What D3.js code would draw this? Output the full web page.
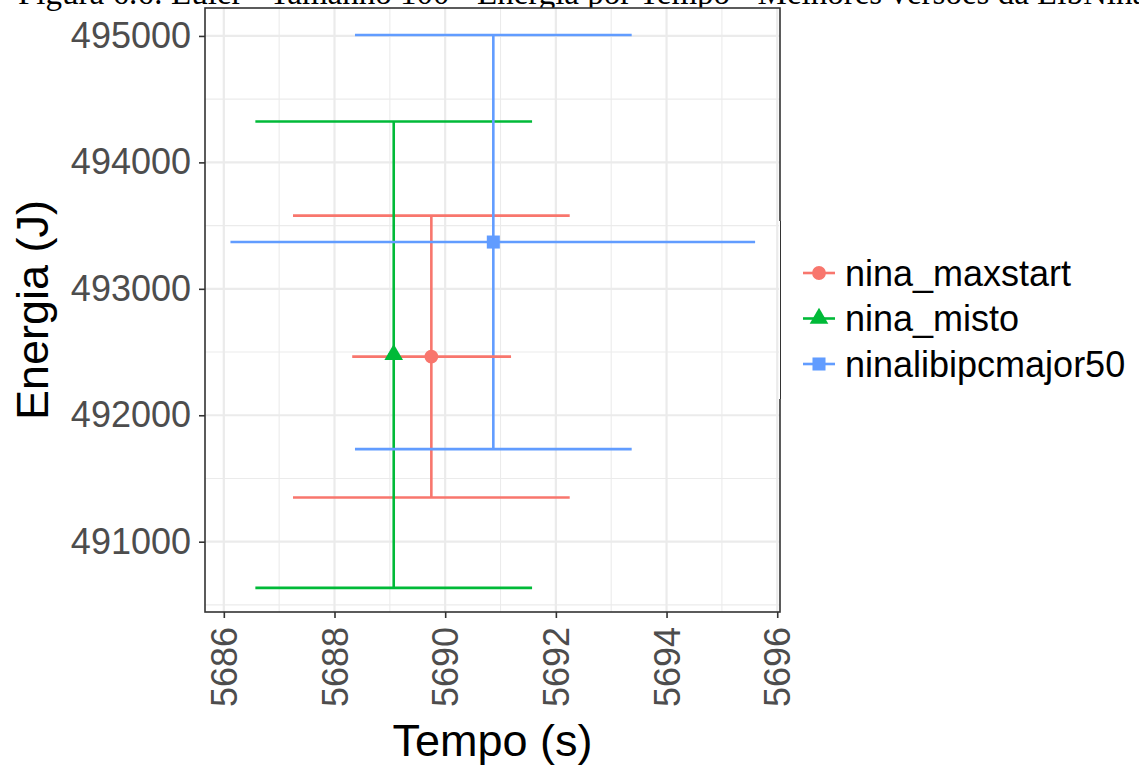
<!DOCTYPE html>
<html>
<head>
<meta charset="utf-8">
<script src="https://cdn.jsdelivr.net/npm/d3@7"></script>
<style>
  body { margin: 0; background: #fff; }
  svg { display: block; font-family: "Liberation Sans", Arial, sans-serif; }
</style>
</head>
<body>
<svg width="1139" height="765"></svg>
<script>
// data
const series = ["nina_maxstart", "nina_misto", "ninalibipcmajor50"];
const colors = ["#F8766D", "#00BA38", "#619CFF"];
const shapes = ["circle", "triangle", "square"];
const tempo = [5689.75, 5689.07, 5690.87];
const tempoMin = [5688.32, 5688.97, 5686.12];
const tempoMax = [5691.19, 5689.17, 5695.60];
const energia = [492464, 492479, 493370];
const energiaMin = [491349, 490635, 491732];
const energiaMax = [493579, 494323, 495007];
const xTicks = [5686, 5688, 5690, 5692, 5694, 5696];
const yTicks = [491000, 492000, 493000, 494000, 495000];
const capWidth = 5; // errorbar width in data units

const width = 1139, height = 765;
const pLeft = 205, pRight = 780, pTop = 8, pBottom = 612;

const svg = d3.select("svg");

const x = d3.scaleLinear().domain([5685.66, 5696.05]).range([pLeft, pRight]);
const y = d3.scaleLinear().domain([490444, 495221]).range([pBottom, pTop]);

const rows = series.map((s, i) => ({
    name: s, color: colors[i], shape: shapes[i],
    x: tempo[i], xmin: tempoMin[i], xmax: tempoMax[i],
    y: energia[i], ymin: energiaMin[i], ymax: energiaMax[i]
}));

// caption of the page, cut off at the top (the plot covers its descenders)
svg.append("text")
    .attr("x", 18)
    .attr("y", 4)
    .attr("font-family", "Liberation Serif, Times New Roman, serif")
    .attr("font-size", 33)
    .attr("fill", "#000")
    .text("Figura 6.6: Euler - Tamanho 100 - Energia por Tempo - Melhores versões da LibNina");

// panel background
svg.append("rect")
    .attr("x", pLeft).attr("y", pTop)
    .attr("width", pRight - pLeft).attr("height", pBottom - pTop)
    .attr("fill", "#fff");

// minor grid
const xMinor = d3.range(5687, 5696, 2);
const yMinor = d3.range(490500, 495001, 1000);
svg.append("g").selectAll("line")
    .data(xMinor).enter().append("line")
    .attr("x1", d => x(d)).attr("x2", d => x(d))
    .attr("y1", pTop).attr("y2", pBottom)
    .attr("stroke", "#ebebeb").attr("stroke-width", 1.1);
svg.append("g").selectAll("line")
    .data(yMinor).enter().append("line")
    .attr("y1", d => y(d)).attr("y2", d => y(d))
    .attr("x1", pLeft).attr("x2", pRight)
    .attr("stroke", "#ebebeb").attr("stroke-width", 1.1);

// major grid
svg.append("g").selectAll("line")
    .data(xTicks).enter().append("line")
    .attr("x1", d => x(d)).attr("x2", d => x(d))
    .attr("y1", pTop).attr("y2", pBottom)
    .attr("stroke", "#ebebeb").attr("stroke-width", 2.2);
svg.append("g").selectAll("line")
    .data(yTicks).enter().append("line")
    .attr("y1", d => y(d)).attr("y2", d => y(d))
    .attr("x1", pLeft).attr("x2", pRight)
    .attr("stroke", "#ebebeb").attr("stroke-width", 2.2);

// vertical errorbars
const vbars = svg.append("g").selectAll("g")
    .data(rows).enter().append("g")
    .attr("stroke", d => d.color)
    .attr("stroke-width", 2.6)
    .attr("fill", "none");
vbars.append("line")
    .attr("x1", d => x(d.x)).attr("x2", d => x(d.x))
    .attr("y1", d => y(d.ymin)).attr("y2", d => y(d.ymax));
vbars.append("line")
    .attr("x1", d => x(d.x - capWidth / 2)).attr("x2", d => x(d.x + capWidth / 2))
    .attr("y1", d => y(d.ymin)).attr("y2", d => y(d.ymin));
vbars.append("line")
    .attr("x1", d => x(d.x - capWidth / 2)).attr("x2", d => x(d.x + capWidth / 2))
    .attr("y1", d => y(d.ymax)).attr("y2", d => y(d.ymax));

// horizontal errorbars
svg.append("g").selectAll("line")
    .data(rows).enter().append("line")
    .attr("x1", d => x(d.xmin)).attr("x2", d => x(d.xmax))
    .attr("y1", d => y(d.y)).attr("y2", d => y(d.y))
    .attr("stroke", d => d.color)
    .attr("stroke-width", 2.6);

// point shapes
const symbolFor = {
    circle: d3.symbol().type(d3.symbolCircle).size(150),
    triangle: d3.symbol().type(d3.symbolTriangle).size(150),
    square: d3.symbol().type(d3.symbolSquare).size(170)
};
svg.append("g").selectAll("path")
    .data(rows).enter().append("path")
    .attr("transform", d => `translate(${x(d.x)},${y(d.y)})`)
    .attr("d", d => symbolFor[d.shape]())
    .attr("fill", d => d.color);

// panel border
svg.append("rect")
    .attr("x", pLeft).attr("y", pTop)
    .attr("width", pRight - pLeft).attr("height", pBottom - pTop)
    .attr("fill", "none")
    .attr("stroke", "#333")
    .attr("stroke-width", 1.6);

// axes
const yAxis = svg.append("g")
    .attr("transform", `translate(${pLeft},0)`)
    .call(d3.axisLeft(y).tickValues(yTicks).tickSize(6).tickPadding(8).tickFormat(d3.format("d")));
const xAxis = svg.append("g")
    .attr("transform", `translate(0,${pBottom})`)
    .call(d3.axisBottom(x).tickValues(xTicks).tickSize(6).tickFormat(d3.format("d")));

[xAxis, yAxis].forEach(a => {
    a.select(".domain").remove();
    a.selectAll(".tick line").attr("stroke", "#333").attr("stroke-width", 1.6);
    a.selectAll(".tick text")
        .attr("fill", "#4d4d4d")
        .attr("font-size", 36)
        .attr("font-family", "Liberation Sans, Arial, sans-serif");
});
xAxis.selectAll(".tick text")
    .attr("transform", "rotate(-90)")
    .attr("text-anchor", "end")
    .attr("x", -15)
    .attr("y", 0)
    .attr("dy", "0.35em");

// axis titles
svg.append("text")
    .attr("x", (pLeft + pRight) / 2)
    .attr("y", 756)
    .attr("text-anchor", "middle")
    .attr("font-size", 45)
    .attr("fill", "#000")
    .text("Tempo (s)");
svg.append("text")
    .attr("transform", `translate(48,${(pTop + pBottom) / 2}) rotate(-90)`)
    .attr("text-anchor", "middle")
    .attr("font-size", 45)
    .attr("fill", "#000")
    .text("Energia (J)");

// legend (its box covers part of the panel border)
svg.append("rect")
    .attr("x", 779).attr("y", 221)
    .attr("width", 4).attr("height", 178)
    .attr("fill", "#fff");
svg.append("line")
    .attr("x1", 780.5).attr("x2", 780.5)
    .attr("y1", 221).attr("y2", 399)
    .attr("stroke", "#333").attr("stroke-width", 1);

const legend = svg.append("g").selectAll("g")
    .data(rows).enter().append("g")
    .attr("transform", (d, i) => `translate(819,${273 + i * 45.5})`);
legend.append("line")
    .attr("x1", -16).attr("x2", 16)
    .attr("stroke", d => d.color)
    .attr("stroke-width", 2.6);
legend.append("path")
    .attr("d", d => symbolFor[d.shape]())
    .attr("fill", d => d.color);
legend.append("text")
    .attr("x", 26)
    .attr("dy", "0.35em")
    .attr("font-size", 36)
    .attr("fill", "#000")
    .text(d => d.name);
</script>
</body>
</html>
